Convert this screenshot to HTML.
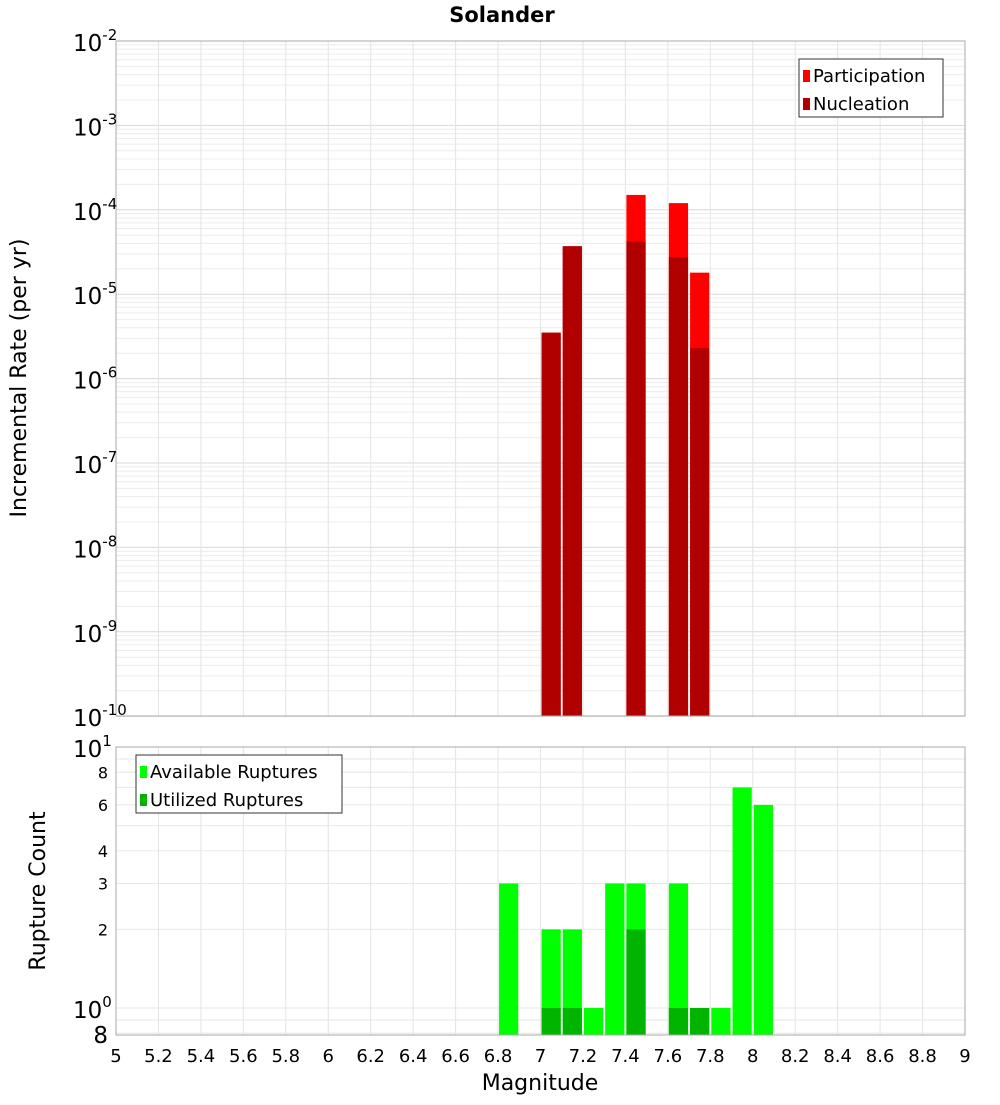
<!DOCTYPE html>
<html><head><meta charset="utf-8"><style>
body{margin:0;background:#fff;font-family:"Liberation Sans","DejaVu Sans",sans-serif}
svg text{font-family:"DejaVu Sans","Liberation Sans",sans-serif}
</style></head><body>
<svg id="c" width="1000" height="1100" xmlns="http://www.w3.org/2000/svg">
<text x="502" y="22" text-anchor="middle" font-size="21" font-weight="bold">Solander</text>
<g id="topg"></g>
<g id="botg"></g>
<text transform="translate(26,378) rotate(-90)" text-anchor="middle" font-size="22">Incremental Rate (per yr)</text>
<text transform="translate(45,891) rotate(-90)" text-anchor="middle" font-size="22">Rupture Count</text>
<text x="540" y="1090" text-anchor="middle" font-size="22">Magnitude</text>
</svg>
<script>
const mags=[6.85,7.05,7.15,7.25,7.35,7.45,7.65,7.75,7.85,7.95,8.05];
const rateMags=[7.05,7.15,7.45,7.65,7.75];
const participation=[3.5e-6,3.7e-5,1.5e-4,1.2e-4,1.8e-5];
const nucleation=[3.5e-6,3.7e-5,4.2e-5,2.75e-5,2.3e-6];
const available=[3,2,2,1,3,3,3,1,1,7,6];
const utilized=[0,1,1,0,0,2,1,1,0,0,0];
const xTicks=[5,5.2,5.4,5.6,5.8,6,6.2,6.4,6.6,6.8,7,7.2,7.4,7.6,7.8,8,8.2,8.4,8.6,8.8,9];
const topExps=[-2,-3,-4,-5,-6,-7,-8,-9,-10];
const botTicks=[8,6,4,3,2];
const NS="http://www.w3.org/2000/svg";
const X0=116,X1=965;
const x=m=>X0+(m-5)*(X1-X0)/4;
const yT=v=>41+84.4*(-2-Math.log10(v));
const yB=v=>1008-261*Math.log10(v);
function mk(p,tag,a){const e=document.createElementNS(NS,tag);for(const k in a)e.setAttribute(k,a[k]);p.appendChild(e);return e;}
const topG=document.getElementById('topg'),botG=document.getElementById('botg');
for(let e=-10;e<-2;e++)for(let k=1;k<10;k++){const y=yT(k*Math.pow(10,e));const g=mk(topG,'line',{x1:X0,x2:X1,y1:y,y2:y,stroke:k==1?'#d8d8d8':'#ececec','stroke-width':1});

}
for(const t of xTicks){const a=mk(topG,'line',{x1:x(t),x2:x(t),y1:41,y2:716,stroke:'#e4e4e4'});


const b=mk(botG,'line',{x1:x(t),x2:x(t),y1:747,y2:1035,stroke:'#e4e4e4'});

}
for(const v of [0.8,0.9,1,2,3,4,5,6,7,8,9,10]){const g=mk(botG,'line',{x1:X0,x2:X1,y1:yB(v),y2:yB(v),stroke:'#e6e6e6'});

}
rateMags.forEach((m,i)=>{
const p=mk(topG,'rect',{x:x(m-0.05)+1,width:x(m+0.05)-x(m-0.05)-2,y:yT(participation[i]),height:716-yT(participation[i]),fill:'#ff0000'});


const n=mk(topG,'rect',{x:x(m-0.05)+1,width:x(m+0.05)-x(m-0.05)-2,y:yT(nucleation[i]),height:716-yT(nucleation[i]),fill:'#b00000'});

});
mags.forEach((m,i)=>{
const a=mk(botG,'rect',{x:x(m-0.05)+1,width:x(m+0.05)-x(m-0.05)-2,y:yB(available[i]),height:1035-yB(available[i]),fill:'#00ff00'});


if(utilized[i]>0){const u=mk(botG,'rect',{x:x(m-0.05)+1,width:x(m+0.05)-x(m-0.05)-2,y:yB(utilized[i]),height:1035-yB(utilized[i]),fill:'#00b400'});

}});
const f1=mk(topG,'rect',{x:X0,y:41,width:X1-X0,height:675,fill:'none',stroke:'#aaa'});


const f2=mk(botG,'rect',{x:X0,y:747,width:X1-X0,height:288,fill:'none',stroke:'#aaa'});


function powLabel(p,xx,yy,base,exp){const t=mk(p,'text',{x:xx,y:yy,'font-size':23});


t.appendChild(document.createTextNode(base));
const s=mk(t,'tspan',{dy:-11,'font-size':15});s.textContent=exp;}
for(const e of topExps){powLabel(topG,73,yT(Math.pow(10,e))+10,'10',String(e));}
powLabel(botG,73,757,'10','1');
powLabel(botG,73,1018,'10','0');
const t8=mk(botG,'text',{x:108,y:1043,'font-size':23,'text-anchor':'end'});


t8.textContent='8';
for(const v of botTicks){const t=mk(botG,'text',{x:108,y:yB(v)+6,'font-size':16,'text-anchor':'end'});


t.textContent=v;}
for(const v of xTicks){const t=mk(botG,'text',{x:x(v),y:1062,'font-size':18,'text-anchor':'middle'});


t.textContent=String(+v.toFixed(1));}
function legend(p,bx,by,w,items){const r=mk(p,'rect',{x:bx,y:by,width:w,height:58,fill:'#fff',stroke:'#333'});


items.forEach((it,i)=>{const s=mk(p,'rect',{x:bx+4,y:by+11+i*28,width:7,height:12,fill:it[1]});


const t=mk(p,'text',{x:bx+14,y:by+23+i*28,'font-size':18});


t.textContent=it[0];});}
legend(topG,799,59,144,[['Participation','#ff0000'],['Nucleation','#b00000']]);
legend(botG,136,755,206,[['Available Ruptures','#00ff00'],['Utilized Ruptures','#00b400']]);
</script>
</body></html>
